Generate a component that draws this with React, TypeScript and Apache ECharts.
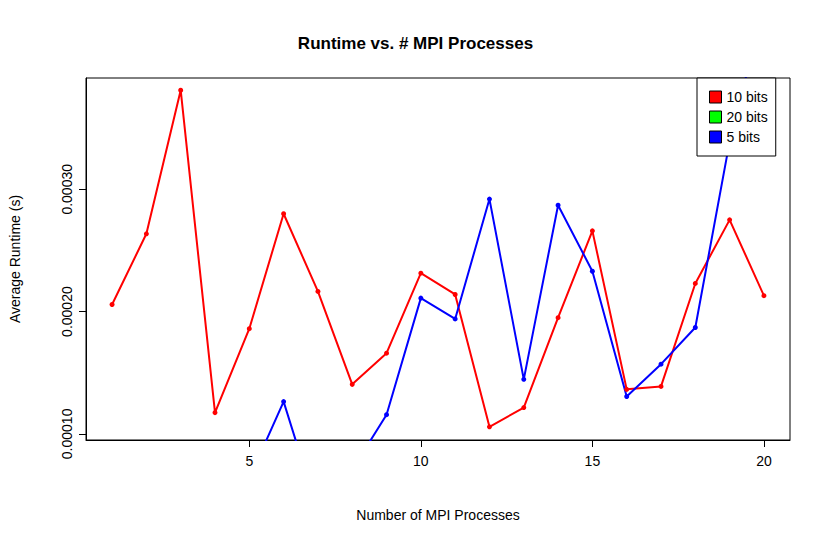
import React, { useEffect, useRef } from "react";
import * as echarts from "echarts";

const xs = [1,2,3,4,5,6,7,8,9,10,11,12,13,14,15,16,17,18,19,20];
const red = [0.0002058,0.0002636,0.000381,0.0001174,0.000186,0.00028,0.0002165,0.0001405,0.000166,0.0002314,0.000214,0.0001058,0.0001215,0.000195,0.000266,0.0001364,0.0001388,0.000223,0.000275,0.000213];
const blue = [0.00005,0.000055,0.00005,0.00006,0.0000636,0.0001264,0.0000367,0.0000707,0.0001157,0.000211,0.000194,0.000292,0.0001446,0.000287,0.000233,0.0001306,0.000157,0.000187,0.000339,0.00045];
const xTicks = [5,10,15,20];
const yTicks = [0.0001,0.0002,0.0003];

export default function App() {
  const ref = useRef<HTMLDivElement>(null);
  useEffect(() => {
    const c = echarts.init(ref.current!, null, { renderer: "svg" });
    const font = "Arial, Liberation Sans, sans-serif";
    c.setOption({
      animation: false,
      textStyle: { fontFamily: font },
      title: { text: "Runtime vs. # MPI Processes", left: "center", top: 30, textStyle: { fontSize: 17, fontWeight: "bold", color: "#000", fontFamily: font } },
      grid: { left: 80, right: 41, top: 78, bottom: 99, show: true, borderColor: "#000", borderWidth: 1 },
      legend: {
        orient: "vertical", left: 697, top: 78, padding: [12, 8, 12, 12], itemGap: 6,
        borderColor: "#000", borderWidth: 1, borderRadius: 0, backgroundColor: "#fff",
        itemWidth: 12, itemHeight: 12, icon: "rect",
        textStyle: { fontSize: 14, color: "#000", padding: [0, 4, 0, 0] },
        data: [
          { name: "10 bits", itemStyle: { color: "#ff0000", borderColor: "#000", borderWidth: 1 } },
          { name: "20 bits", itemStyle: { color: "#00ff00", borderColor: "#000", borderWidth: 1 } },
          { name: "5 bits", itemStyle: { color: "#0000ff", borderColor: "#000", borderWidth: 1 } },
        ],
      },
      xAxis: {
        type: "value", min: 0.24, max: 20.76,
        name: "Number of MPI Processes", nameLocation: "middle", nameGap: 68,
        nameTextStyle: { fontSize: 14, color: "#000" },
        splitLine: { show: false },
        axisLine: { show: true, lineStyle: { color: "#000" } },
        axisTick: { show: true, length: 7, customValues: xTicks, lineStyle: { color: "#000" } },
        axisLabel: { customValues: xTicks, fontSize: 14, color: "#000", margin: 14 },
      },
      yAxis: {
        type: "value", min: 0.000095, max: 0.000391,
        name: "Average Runtime (s)", nameLocation: "middle", nameGap: 64,
        nameTextStyle: { fontSize: 14, color: "#000" },
        splitLine: { show: false },
        axisLine: { show: true, lineStyle: { color: "#000" } },
        axisTick: { show: true, length: 7, customValues: yTicks, lineStyle: { color: "#000" } },
        axisLabel: { customValues: yTicks, rotate: 90, fontSize: 14, color: "#000", margin: 12, formatter: (v: number) => v.toFixed(5) },
      },
      series: [
        { name: "10 bits", type: "line", data: xs.map((x, i) => [x, red[i]]), color: "#ff0000", symbol: "circle", symbolSize: 5, lineStyle: { width: 2 }, clip: true },
        { name: "20 bits", type: "line", data: [], color: "#00ff00" },
        { name: "5 bits", type: "line", data: xs.map((x, i) => [x, blue[i]]), color: "#0000ff", symbol: "circle", symbolSize: 5, lineStyle: { width: 2 }, clip: true },
      ],
    });
    return () => c.dispose();
  }, []);
  return <div ref={ref} style={{ position: "absolute", left: 0, top: 0, width: 831, height: 539, background: "#fff" }} />;
}
